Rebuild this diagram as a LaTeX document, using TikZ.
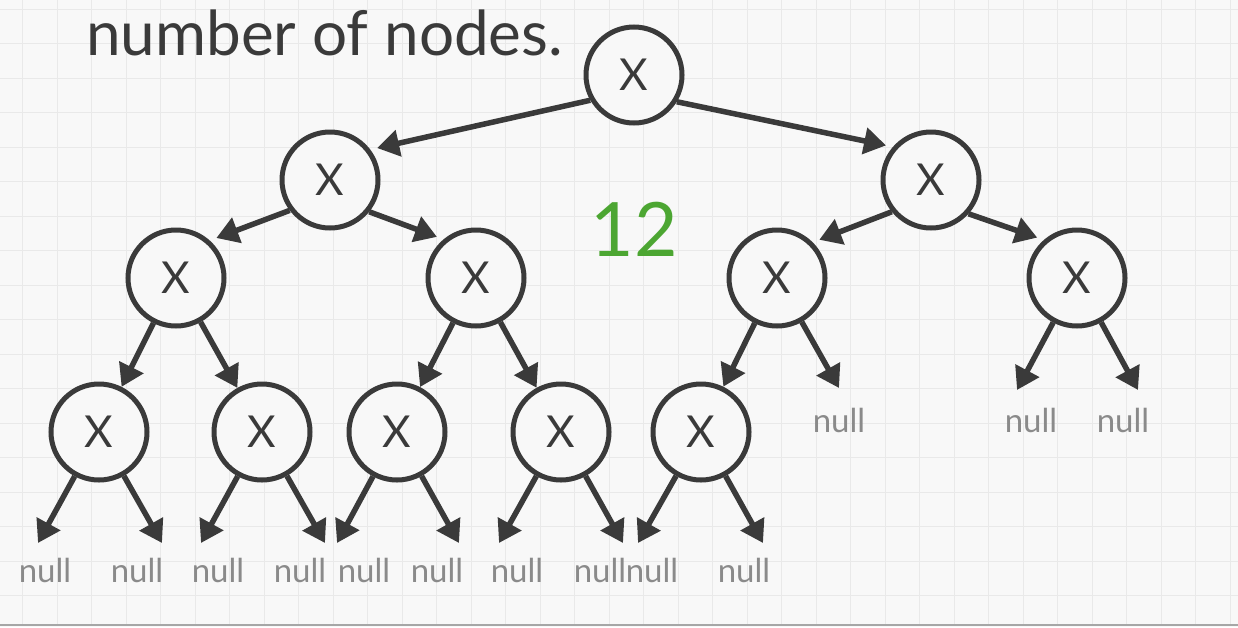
\documentclass[tikz,border=0pt]{standalone}
\usepackage{fontspec}
\setmainfont{Lato}
\usetikzlibrary{arrows.meta}
\definecolor{ink}{HTML}{3A3A3A}
\definecolor{nullgray}{HTML}{8A8A8A}
\definecolor{countgreen}{HTML}{4CA632}
\definecolor{paper}{HTML}{F8F8F8}
\definecolor{gridln}{HTML}{E9E9E9}
\tikzset{
  tnode/.style   = {draw=ink, line width=5pt, circle, fill=paper, minimum size=96pt,
                    inner sep=0pt, font=\fontsize{44}{44}\selectfont, text=ink},
  nulltxt/.style = {text=nullgray, font=\fontsize{33}{33}\selectfont, inner sep=0pt},
  edge/.style    = {draw=ink, line width=5.5pt, -{Triangle[length=22pt,width=26pt]}},
  gap/.style     = {shorten >=7pt},
}

\begin{document}
\begin{tikzpicture}[x=1pt,y=-1pt]
\fill[paper] (0,0) rectangle (1238,627);
\useasboundingbox (0,0) rectangle (1238,627);
% background grid
\foreach \i in {0,...,35} \draw[gridln,line width=1.2pt] (22.7+34.5*\i,0) -- (22.7+34.5*\i,624);
\foreach \j in {0,...,17} \draw[gridln,line width=1.2pt] (0,9.3+34.5*\j) -- (1238,9.3+34.5*\j);
\draw[gray!70,line width=1.5pt] (0,625) -- (1238,625);

\node[anchor=base west,inner sep=0pt,text=ink,font=\fontsize{62}{62}\selectfont] (title) at (86,55) {number of nodes.};
\node[text=countgreen,font=\fontsize{75}{75}\selectfont] (count) at (634,229) {12};

% tree nodes
\node[tnode] (r)   at (634,75)  {X};
\node[tnode] (a)   at (330,180) {X};
\node[tnode] (b)   at (931,180) {X};
\node[tnode] (aa)  at (176,278) {X};
\node[tnode] (ab)  at (476,278) {X};
\node[tnode] (ba)  at (777,278) {X};
\node[tnode] (bb)  at (1077,278) {X};
\node[tnode] (aaa) at (99,432)  {X};
\node[tnode] (aab) at (262,432) {X};
\node[tnode] (aba) at (397,432) {X};
\node[tnode] (abb) at (561,432) {X};
\node[tnode] (baa) at (701,432) {X};

% null labels
\node[nulltxt] (n1)  at (45,570)   {null};
\node[nulltxt] (n2)  at (137,570)  {null};
\node[nulltxt] (n3)  at (218,570)  {null};
\node[nulltxt] (n4)  at (300,570)  {null};
\node[nulltxt] (n5)  at (364,570)  {null};
\node[nulltxt] (n6)  at (437,570)  {null};
\node[nulltxt] (n7)  at (517,570)  {null};
\node[nulltxt] (n8)  at (600,570)  {null};
\node[nulltxt] (n9)  at (652,570)  {null};
\node[nulltxt] (n10) at (744,570)  {null};
\node[nulltxt] (n11) at (839,420)  {null};
\node[nulltxt] (n12) at (1031,420) {null};
\node[nulltxt] (n13) at (1123,420) {null};

% arrow tips
\coordinate (t1)  at (38,543);  \coordinate (t2)  at (162,543);
\coordinate (t3)  at (201,543); \coordinate (t4)  at (325,543);
\coordinate (t5)  at (337,543); \coordinate (t6)  at (459,543);
\coordinate (t7)  at (499,543); \coordinate (t8)  at (623,543);
\coordinate (t9)  at (638,543); \coordinate (t10) at (763,543);
\coordinate (t11) at (839,388); \coordinate (t12) at (1017,390);
\coordinate (t13) at (1138,390);

% edges
\draw[edge,gap] (r.210) -- (a.37);
\draw[edge,gap] (r.328) -- (b.139);
\draw[edge,gap] (a.217) -- (aa.48);
\draw[edge,gap] (a.321) -- (ab.130);
\draw[edge,gap] (b.219) -- (ba.45);
\draw[edge,gap] (b.318) -- (bb.131);
\draw[edge] (aa) -- (aaa);
\draw[edge] (aa) -- (aab);
\draw[edge] (ab) -- (aba);
\draw[edge] (ab) -- (abb);
\draw[edge] (ba) -- (baa);
\draw[edge] (ba) -- (t11);
\draw[edge] (bb) -- (t12);
\draw[edge] (bb) -- (t13);
\draw[edge] (aaa) -- (t1);
\draw[edge] (aaa) -- (t2);
\draw[edge] (aab) -- (t3);
\draw[edge] (aab) -- (t4);
\draw[edge] (aba) -- (t5);
\draw[edge] (aba) -- (t6);
\draw[edge] (abb) -- (t7);
\draw[edge] (abb) -- (t8);
\draw[edge] (baa) -- (t9);
\draw[edge] (baa) -- (t10);
\end{tikzpicture}
\end{document}
